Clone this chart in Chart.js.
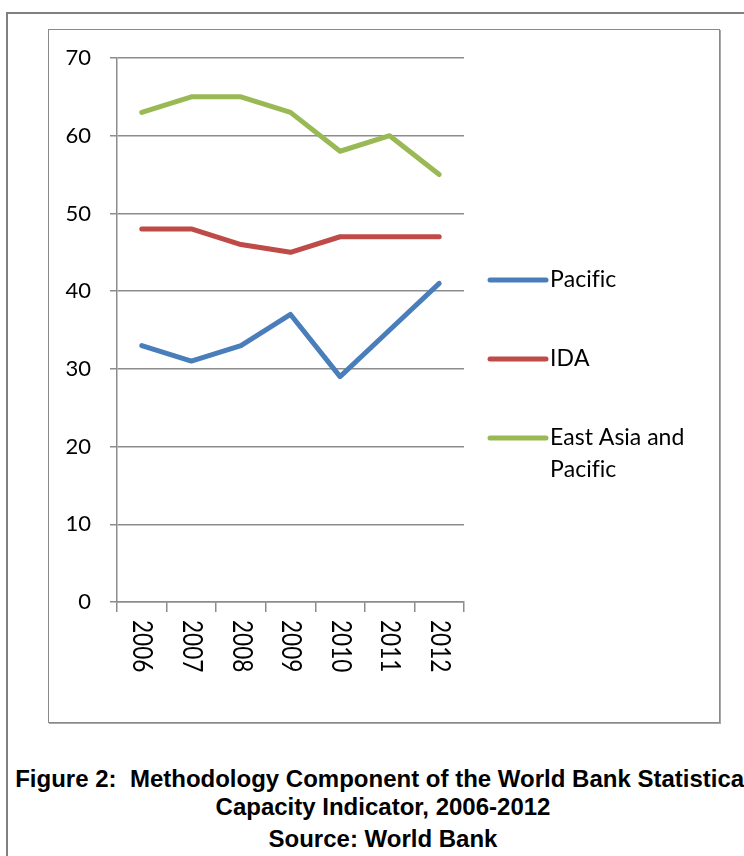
<!DOCTYPE html>
<html>
<head>
<meta charset="utf-8">
<title>Methodology Component of the World Bank Statistical Capacity Indicator</title>
<script src="https://cdn.jsdelivr.net/npm/chart.js@4/dist/chart.umd.min.js"></script>
<style>
  html, body { margin: 0; padding: 0; background: #fff; width: 744px; height: 856px; overflow: hidden; }
  #page { position: absolute; left: 6px; top: 12px; width: 800px; height: 900px;
          border-left: 2px solid #808080; border-top: 2px solid #808080; }
  #frame { position: absolute; left: 48px; top: 29px; width: 670px; height: 692px;
           border: 1px solid #8a8a8a; box-shadow: 1px 1px 0 #a8a8a8; }
  #chartBox { position: absolute; left: 49px; top: 30px; width: 670px; height: 692px; }
  #chart { display: block; }
  .cap { position: absolute; left: 7px; width: 752px; text-align: center; white-space: nowrap;
         font: bold 24px "Liberation Sans", Arial, sans-serif; line-height: 24px; color: #000; }
</style>
</head>
<body>
<div id="page"></div>
<div id="frame"></div>
<div id="chartBox"><canvas id="chart" width="670" height="692"></canvas></div>
<div class="cap" style="top:767px">Figure 2:&nbsp; Methodology Component of the World Bank Statistical</div>
<div class="cap" style="top:795px">Capacity Indicator, 2006-2012</div>
<div class="cap" style="top:827px">Source: World Bank</div>

<script>
// Years on the horizontal axis
const years = ['2006', '2007', '2008', '2009', '2010', '2011', '2012'];

// Series names and their scores
const seriesNames = ['Pacific', 'IDA', 'East Asia and Pacific'];
const pacific = [33, 31, 33, 37, 29, 35, 41];
const ida = [48, 48, 46, 45, 47, 47, 47];
const eastAsiaPacific = [63, 65, 65, 63, 58, 60, 55];

// Value axis range
const yMin = 0;
const yMax = 70;
const yStep = 10;

const seriesColors = ['#4a7ebb', '#be4b48', '#98b954'];
const gridColor = '#8c8c8c';
const labelFont = '"Lato", "Open Sans", sans-serif';

// Draw a string glyph by glyph so no ligatures are formed
function fillPlain(ctx, text, x, y) {
  let cx = x;
  for (const ch of text) {
    ctx.fillText(ch, cx, y);
    cx += ctx.measureText(ch).width;
  }
}

// Year labels run top-to-bottom under each category
const verticalYearLabels = {
  id: 'verticalYearLabels',
  afterDraw(chart) {
    const ctx = chart.ctx;
    const xs = chart.scales.x;
    const top = chart.chartArea.bottom + 18;
    ctx.save();
    ctx.fillStyle = '#000';
    ctx.font = '26px ' + labelFont;
    ctx.textAlign = 'left';
    ctx.textBaseline = 'middle';
    years.forEach((label, i) => {
      const x = xs.getPixelForValue(i);
      ctx.save();
      ctx.translate(x, top);
      ctx.rotate(Math.PI / 2);
      ctx.scale(0.87, 1);
      ctx.fillText(label, 0, 0);
      ctx.restore();
    });
    ctx.restore();
  }
};

// Legend at the right of the plot, with word-wrapped names
const sideLegend = {
  id: 'sideLegend',
  afterDraw(chart) {
    const ctx = chart.ctx;
    const area = chart.chartArea;
    const x0 = area.right + 26;
    const lineLen = 56;
    const textX = x0 + lineLen + 4;
    const maxWidth = 150;
    const rowGap = 79;
    const lineHeight = 32;
    let y = area.top + 222;
    ctx.save();
    ctx.font = '23px ' + labelFont;
    ctx.textBaseline = 'middle';
    ctx.textAlign = 'left';
    chart.data.datasets.forEach((ds) => {
      ctx.strokeStyle = ds.borderColor;
      ctx.lineWidth = 5;
      ctx.lineCap = 'round';
      ctx.beginPath();
      ctx.moveTo(x0, y);
      ctx.lineTo(x0 + lineLen, y);
      ctx.stroke();
      // simple word wrap
      const words = ds.label.split(' ');
      const lines = [];
      let cur = '';
      words.forEach((w) => {
        const test = cur ? cur + ' ' + w : w;
        if (cur && ctx.measureText(test).width > maxWidth) {
          lines.push(cur);
          cur = w;
        } else {
          cur = test;
        }
      });
      if (cur) lines.push(cur);
      ctx.fillStyle = '#000';
      lines.forEach((ln, k) => fillPlain(ctx, ln, textX, y + k * lineHeight));
      y += rowGap;
    });
    ctx.restore();
  }
};

new Chart(document.getElementById('chart'), {
  type: 'line',
  data: {
    labels: years,
    datasets: [pacific, ida, eastAsiaPacific].map((values, i) => ({
      label: seriesNames[i],
      data: values,
      borderColor: seriesColors[i],
      backgroundColor: seriesColors[i],
      borderWidth: 5,
      borderCapStyle: 'round',
      borderJoinStyle: 'round',
      pointRadius: 0,
      tension: 0,
      fill: false
    }))
  },
  options: {
    responsive: false,
    animation: false,
    devicePixelRatio: 1,
    layout: { padding: { left: 0, top: 28, right: 255, bottom: 0 } },
    plugins: {
      legend: { display: false },
      tooltip: { enabled: false },
      title: { display: false }
    },
    scales: {
      x: {
        type: 'category',
        offset: true,
        grid: {
          offset: true,
          drawOnChartArea: false,
          drawTicks: true,
          tickLength: 10,
          color: gridColor,
          lineWidth: 1.5
        },
        border: { display: true, color: gridColor, width: 1.5 },
        ticks: { display: false },
        afterFit(scale) { scale.height = 120; }
      },
      y: {
        min: yMin,
        max: yMax,
        ticks: {
          stepSize: yStep,
          color: '#000',
          font: { family: labelFont, size: 22 },
          padding: 19
        },
        grid: {
          color: gridColor,
          lineWidth: 1.5,
          drawTicks: true,
          tickLength: 7
        },
        border: { display: true, color: gridColor, width: 1.5 },
        afterFit(scale) {
          scale.width = 68;
          scale.paddingTop = 0;
          scale.paddingBottom = 0;
        }
      }
    }
  },
  plugins: [verticalYearLabels, sideLegend]
});
</script>
</body>
</html>
